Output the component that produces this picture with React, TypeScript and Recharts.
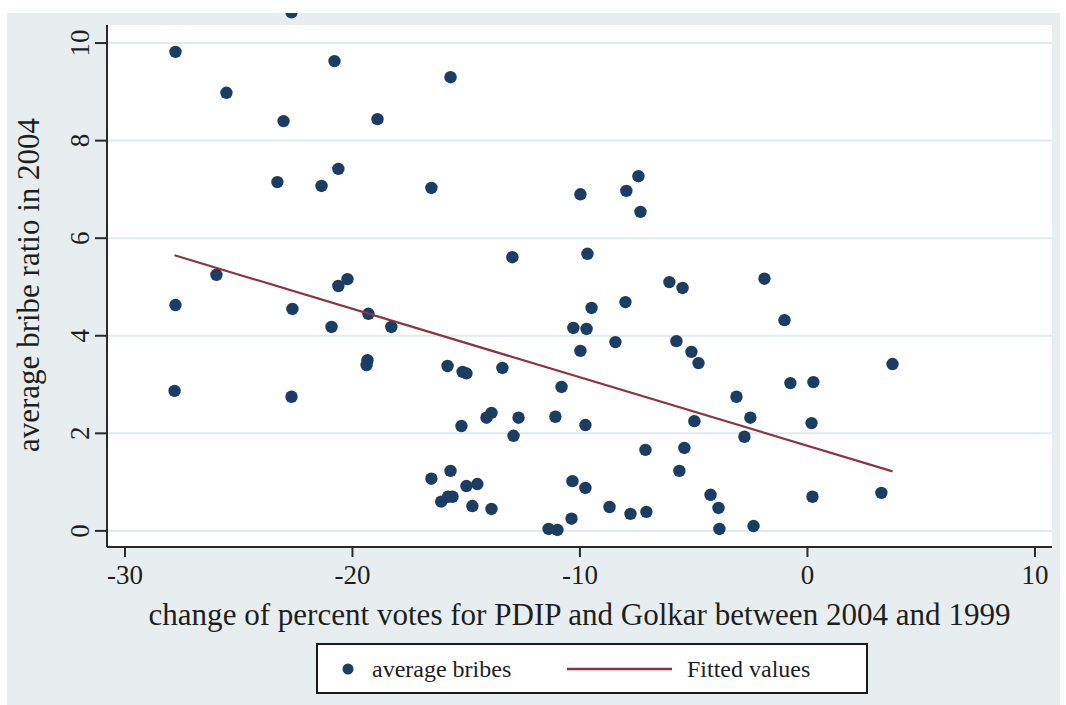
import React from 'react';
import { ScatterChart, Scatter, XAxis, YAxis, CartesianGrid, ReferenceDot } from 'recharts';

// change of percent votes for PDIP and Golkar between 2004 and 1999
const voteChange = [
  -27.78, -25.54, -20.79, -23.03, -23.3, -21.36, -20.62, -25.98, -20.62, -20.22,
  -22.68, -15.69, -18.9, -16.53, -9.98, -7.96, -7.43, -7.34, -12.97, -9.67,
  -6.07, -5.49, -27.78, -22.64, -20.92, -27.82, -22.68, -9.49, -8.0, -19.3,
  -18.29, -10.29, -9.71, -8.44, -9.98, -5.76, -5.1, -4.79, -19.34, -19.38,
  -15.82, -15.16, -14.99, -13.41, -10.81, -4.97, -13.89, -14.11, -12.7, -11.08,
  -15.21, -9.76, -12.92, -7.12, -5.41, -5.63, -16.53, -15.69, -14.99, -14.51,
  -10.33, -9.76, -16.1, -15.8, -15.6, -14.73, -13.89, -8.7, -7.78, -7.08,
  -10.37, -11.38, -10.99, -1.89, -1.01, 3.74, -0.75, 0.26, -3.12, -2.51,
  -2.77, 0.18, -4.26, -3.91, -3.87, -2.37, 0.22, 3.25,
];
// average bribe ratio in 2004
const bribeRatio = [
  9.82, 8.98, 9.63, 8.4, 7.15, 7.07, 7.42, 5.25, 5.02, 5.16,
  10.63, 9.3, 8.44, 7.03, 6.9, 6.97, 7.27, 6.54, 5.61, 5.68,
  5.1, 4.98, 4.63, 4.55, 4.18, 2.87, 2.75, 4.57, 4.69, 4.45,
  4.18, 4.16, 4.14, 3.87, 3.69, 3.89, 3.67, 3.44, 3.5, 3.4,
  3.38, 3.26, 3.23, 3.34, 2.95, 2.25, 2.42, 2.32, 2.32, 2.34,
  2.15, 2.17, 1.95, 1.66, 1.7, 1.23, 1.07, 1.23, 0.92, 0.96,
  1.02, 0.88, 0.6, 0.7, 0.7, 0.51, 0.45, 0.49, 0.35, 0.39,
  0.25, 0.04, 0.02, 5.17, 4.32, 3.42, 3.03, 3.05, 2.75, 2.32,
  1.93, 2.21, 0.74, 0.47, 0.04, 0.1, 0.7, 0.78,
];
// fitted values (endpoints of the linear fit)
const fitVoteChange = [-27.82, 3.74];
const fitBribe = [5.65, 1.22];

const xTicks = [-30, -20, -10, 0, 10];
const yTicks = [0, 2, 4, 6, 8, 10];
const xDomain: [number, number] = [-30.79, 10.75];
const yDomain: [number, number] = [-0.33, 10.37];

const xTitle = 'change of percent votes for PDIP and Golkar between 2004 and 1999';
const yTitle = 'average bribe ratio in 2004';
const legendDots = 'average bribes';
const legendLine = 'Fitted values';

const DOT = '#1b3d63';
const LINE = '#8e3341';
const BG = '#e8eef0';
const INK = '#1e1e1e';
const FONT = '"Liberation Serif", "DejaVu Serif", serif';

const points = voteChange.map((x, i) => ({ x, y: bribeRatio[i] }));
const inside = points.filter((p) => p.y <= yDomain[1]);
const outside = points.filter((p) => p.y > yDomain[1]);
const fitData = fitVoteChange.map((x, i) => ({ x, y: fitBribe[i] }));

const Dot = (props: any) => <circle cx={props.cx} cy={props.cy} r={6.2} fill={DOT} />;
const NoShape = () => <g />;

const XTick = (props: any) => (
  <text x={props.x} y={props.y + 25} textAnchor="middle" fontSize={27} fill={INK} fontFamily={FONT}>
    {props.payload.value}
  </text>
);
const YTick = (props: any) => (
  <text
    x={props.x - 2}
    y={props.y}
    transform={`rotate(-90, ${props.x - 2}, ${props.y})`}
    textAnchor="middle"
    fontSize={27}
    fill={INK}
    fontFamily={FONT}
  >
    {props.payload.value}
  </text>
);

const XLabel = (props: any) => {
  const vb = props.viewBox;
  const cx = vb.x + vb.width / 2;
  return (
    <text x={cx} y={vb.y + 78} textAnchor="middle" fontSize={31} fill={INK} fontFamily={FONT} textLength={862} lengthAdjust="spacingAndGlyphs">
      {xTitle}
    </text>
  );
};
const YLabel = (props: any) => {
  const vb = props.viewBox;
  const cy = vb.y + vb.height / 2 - 1;
  const bx = vb.x - 8;
  return (
    <text x={bx} y={cy} transform={`rotate(-90, ${bx}, ${cy})`} textAnchor="middle" fontSize={31} fill={INK} fontFamily={FONT} textLength={334} lengthAdjust="spacingAndGlyphs">
      {yTitle}
    </text>
  );
};

export default function App() {
  return (
    <div style={{ position: 'absolute', left: 0, top: 0, width: 1066, height: 705, background: '#ffffff', overflow: 'hidden' }}>
      <div style={{ position: 'absolute', left: 7, top: 13, width: 1053, height: 692, background: BG }} />
      <div style={{ position: 'absolute', left: 0, top: 0 }}>
        <ScatterChart width={1066} height={705} margin={{ top: 25, right: 14, bottom: 98, left: 47 }}>
          <CartesianGrid vertical={false} stroke="#e2eaed" strokeWidth={2} fill="#ffffff" horizontalValues={yTicks} />
          <XAxis
            type="number"
            dataKey="x"
            domain={xDomain}
            allowDataOverflow
            ticks={xTicks}
            interval={0}
            height={60}
            tickSize={10}
            tickMargin={2}
            tick={<XTick />}
            axisLine={{ stroke: '#2a2a2a', strokeWidth: 2 }}
            tickLine={{ stroke: '#2a2a2a', strokeWidth: 2 }}
            label={<XLabel />}
          />
          <YAxis
            type="number"
            dataKey="y"
            domain={yDomain}
            allowDataOverflow
            ticks={yTicks}
            interval={0}
            width={60}
            tickSize={12}
            tickMargin={4}
            tick={<YTick />}
            axisLine={{ stroke: '#2a2a2a', strokeWidth: 2 }}
            tickLine={{ stroke: '#2a2a2a', strokeWidth: 2 }}
            label={<YLabel />}
          />
          <Scatter name={legendDots} data={inside} shape={<Dot />} isAnimationActive={false} />
          {outside.map((p, i) => (
            <ReferenceDot key={i} x={p.x} y={p.y} r={6.2} fill={DOT} stroke="none" ifOverflow="visible" />
          ))}
          <Scatter
            name={legendLine}
            data={fitData}
            line={{ stroke: LINE, strokeWidth: 2.2 }}
            shape={<NoShape />}
            isAnimationActive={false}
          />
        </ScatterChart>
      </div>
      <div style={{ position: 'absolute', left: 0, top: 0, width: 1066, height: 13, background: '#ffffff' }} />
      <svg style={{ position: 'absolute', left: 0, top: 0 }} width={1066} height={705} pointerEvents="none">
        <rect x={317} y={644} width={550} height={49} fill="#ffffff" stroke="#1a1a1a" strokeWidth={2} />
        <circle cx={348} cy={669} r={5.5} fill={DOT} />
        <text x={372} y={677} fontSize={24} fill={INK} fontFamily={FONT}>{legendDots}</text>
        <line x1={567} y1={669} x2={672} y2={669} stroke={LINE} strokeWidth={2.5} />
        <text x={687} y={677} fontSize={24} fill={INK} fontFamily={FONT}>{legendLine}</text>
      </svg>
    </div>
  );
}
